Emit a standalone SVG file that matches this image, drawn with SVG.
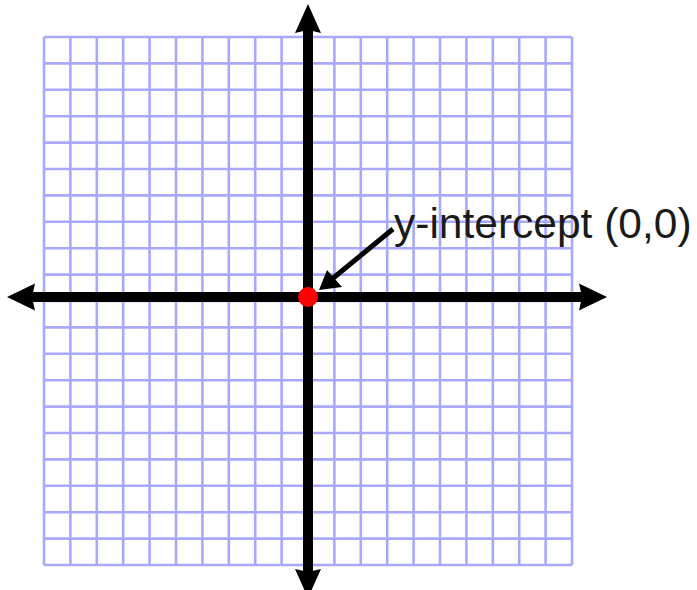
<svg xmlns="http://www.w3.org/2000/svg" width="697" height="590" viewBox="0 0 697 590">
<style>
.grid line{stroke:#a8a8ff;stroke-width:2.6}
.axis{stroke:#000;stroke-width:10;fill:none}
.head{fill:#000}
.lbl{font-family:"Liberation Sans",Arial,sans-serif;font-size:42.5px;fill:#1a1a1a}
</style>
<rect width="697" height="590" fill="#fff"/>
<g id="grid" class="grid">
<line x1="44" y1="37" x2="44" y2="565"/><line x1="70.4" y1="37" x2="70.4" y2="565"/><line x1="96.8" y1="37" x2="96.8" y2="565"/><line x1="123.2" y1="37" x2="123.2" y2="565"/><line x1="149.6" y1="37" x2="149.6" y2="565"/><line x1="176" y1="37" x2="176" y2="565"/><line x1="202.4" y1="37" x2="202.4" y2="565"/><line x1="228.8" y1="37" x2="228.8" y2="565"/><line x1="255.2" y1="37" x2="255.2" y2="565"/><line x1="281.6" y1="37" x2="281.6" y2="565"/><line x1="308" y1="37" x2="308" y2="565"/><line x1="334.4" y1="37" x2="334.4" y2="565"/><line x1="360.8" y1="37" x2="360.8" y2="565"/><line x1="387.2" y1="37" x2="387.2" y2="565"/><line x1="413.6" y1="37" x2="413.6" y2="565"/><line x1="440" y1="37" x2="440" y2="565"/><line x1="466.4" y1="37" x2="466.4" y2="565"/><line x1="492.8" y1="37" x2="492.8" y2="565"/><line x1="519.2" y1="37" x2="519.2" y2="565"/><line x1="545.6" y1="37" x2="545.6" y2="565"/><line x1="572" y1="37" x2="572" y2="565"/>
<line x1="44" y1="37" x2="572" y2="37"/><line x1="44" y1="63.4" x2="572" y2="63.4"/><line x1="44" y1="89.8" x2="572" y2="89.8"/><line x1="44" y1="116.2" x2="572" y2="116.2"/><line x1="44" y1="142.6" x2="572" y2="142.6"/><line x1="44" y1="169" x2="572" y2="169"/><line x1="44" y1="195.4" x2="572" y2="195.4"/><line x1="44" y1="221.8" x2="572" y2="221.8"/><line x1="44" y1="248.2" x2="572" y2="248.2"/><line x1="44" y1="274.6" x2="572" y2="274.6"/><line x1="44" y1="301" x2="572" y2="301"/><line x1="44" y1="327.4" x2="572" y2="327.4"/><line x1="44" y1="353.8" x2="572" y2="353.8"/><line x1="44" y1="380.2" x2="572" y2="380.2"/><line x1="44" y1="406.6" x2="572" y2="406.6"/><line x1="44" y1="433" x2="572" y2="433"/><line x1="44" y1="459.4" x2="572" y2="459.4"/><line x1="44" y1="485.8" x2="572" y2="485.8"/><line x1="44" y1="512.2" x2="572" y2="512.2"/><line x1="44" y1="538.6" x2="572" y2="538.6"/><line x1="44" y1="565" x2="572" y2="565"/>
</g>
<g id="axes">
<line class="axis" x1="308" y1="28" x2="308" y2="576"/>
<line class="axis" x1="32" y1="297" x2="582" y2="297"/>
<path class="head" d="M308,4 L321,33 L308,30 L295,33 Z"/>
<path class="head" d="M308,598 L321,569 L308,572 L295,569 Z"/>
<path class="head" d="M7,297 L35,283.5 L32,297 L35,310.5 Z"/>
<path class="head" d="M607,297 L579,283.5 L582,297 L579,310.5 Z"/>
</g>
<g id="connectors">
<line x1="393" y1="229" x2="332" y2="279" stroke="#000" stroke-width="5"/>
<path class="head" d="M319,290 L327,270 L342,287 Z"/>
</g>
<g id="origin">
<circle cx="308" cy="297" r="10" fill="#ff0000"/>
</g>
<g id="label">
<text class="lbl" x="394" y="238">y-intercept (0,0)</text>
</g>
</svg>
